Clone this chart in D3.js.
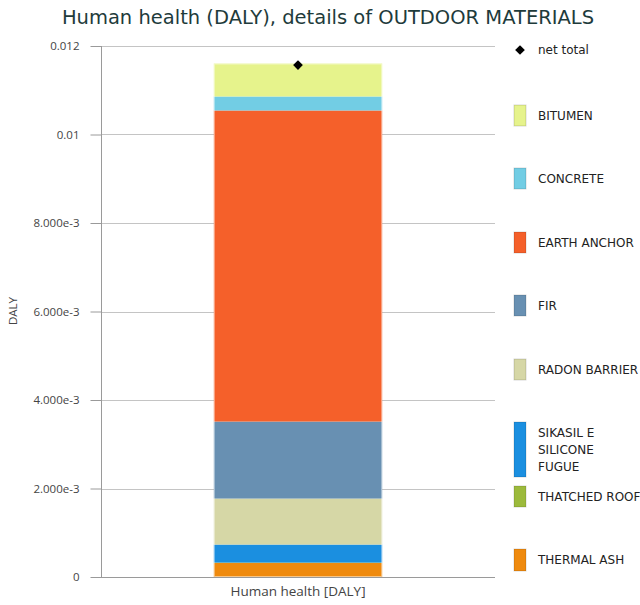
<!DOCTYPE html>
<html><head><meta charset="utf-8">
<script src="https://cdn.jsdelivr.net/npm/d3@7"></script>
<style>body{margin:0;background:#fff}</style>
</head><body>
<svg id="c" width="640" height="605"></svg>
<script>
const categories = ["Human health [DALY]"];
const series = ["THERMAL ASH","THATCHED ROOF","SIKASIL E SILICONE FUGUE","RADON BARRIER","FIR","EARTH ANCHOR","CONCRETE","BITUMEN"];
const values = [0.000316, 0.00001, 0.000407, 0.00104, 0.00174, 0.00703, 0.000316, 0.000746];
const colors = ["#ef8a0e","#9cba3c","#1b8fe0","#d6d7a6","#6890b2","#f5602a","#72cde4","#e6f38c"];
const netTotal = [0.01157];
const yTicks = [0, 0.002, 0.004, 0.006, 0.008, 0.01, 0.012];
const yTickLabels = ["0","2.000e-3","4.000e-3","6.000e-3","8.000e-3","0.01","0.012"];
const legendOrder = ["BITUMEN","CONCRETE","EARTH ANCHOR","FIR","RADON BARRIER","SIKASIL E SILICONE FUGUE","THATCHED ROOF","THERMAL ASH"];

const svg = d3.select("#c");
const y = d3.scaleLinear().domain([0, 0.012]).range([577, 46]);
const x = d3.scaleBand().domain(categories).range([101, 495]).paddingInner(0).paddingOuter(0.67);

svg.append("text").attr("x", 328).attr("y", 24).attr("text-anchor","middle")
  .attr("font-family","Verdana, 'DejaVu Sans', sans-serif").attr("font-size", 19.5)
  .attr("fill","#1e3b3b").text("Human health (DALY), details of OUTDOOR MATERIALS");

// gridlines
svg.append("g").selectAll("line").data(yTicks.slice(1)).join("line")
  .attr("x1",101).attr("x2",495).attr("y1",d=>Math.round(y(d))+0.5).attr("y2",d=>Math.round(y(d))+0.5)
  .attr("stroke","#c4c4c4").attr("stroke-width",1);

// y axis
const yAxis = d3.axisLeft(y).tickValues(yTicks).tickFormat((d,i)=>yTickLabels[i]).tickSize(11).tickPadding(11);
const ga = svg.append("g").attr("transform","translate(101.5,0)").call(yAxis);
ga.select(".domain").attr("stroke","#9a9a9a").attr("d","M0,46V577.5");
ga.selectAll(".tick line").attr("stroke","#9a9a9a");
ga.selectAll(".tick text").attr("font-family","'Open Sans', sans-serif").attr("font-size",11.5).attr("fill","#444");

// x baseline
svg.append("line").attr("x1",101).attr("x2",495).attr("y1",577.5).attr("y2",577.5).attr("stroke","#9a9a9a");

svg.append("text").attr("transform","translate(17,311) rotate(-90)").attr("text-anchor","middle")
  .attr("font-family","'Open Sans', sans-serif").attr("font-size",11.5).attr("fill","#444").text("DALY");

svg.append("text").attr("x", x(categories[0]) + x.bandwidth()/2).attr("y",596).attr("text-anchor","middle")
  .attr("font-family","'Open Sans', sans-serif").attr("font-size",13.5).attr("fill","#444").text(categories[0]);

// stacked bar
let cum = 0;
const stack = values.map((v,i)=>{const s={k:series[i], y0:cum, y1:cum+v, c:colors[i]}; cum+=v; return s;});
svg.append("g").selectAll("rect").data(stack).join("rect")
  .attr("x", x(categories[0])).attr("width", x.bandwidth())
  .attr("y", d=>y(d.y1)).attr("height", d=>y(d.y0)-y(d.y1))
  .attr("fill", d=>d.c);
svg.append("rect").attr("x", x(categories[0])+0.5).attr("width", x.bandwidth()-1)
  .attr("y", y(cum)+0.5).attr("height", y(0)-y(cum)-1).attr("fill","none").attr("stroke","rgba(255,255,255,0.5)");

// net total diamond
svg.append("path").attr("d", d3.symbol(d3.symbolDiamond2 || d3.symbolDiamond, 60)())
  .attr("transform", `translate(${x(categories[0]) + x.bandwidth()/2},${y(netTotal[0])})`).attr("fill","#000");

// legend
const lg = svg.append("g").attr("font-family","Verdana, 'DejaVu Sans', sans-serif").attr("font-size",12).attr("fill","#222");
lg.append("path").attr("d", d3.symbol(d3.symbolDiamond2 || d3.symbolDiamond, 60)()).attr("transform","translate(520,50)").attr("fill","#000");
lg.append("text").attr("x",538).attr("y",54).text("net total");
const legY = {"BITUMEN":[105,126],"CONCRETE":[168,189],"EARTH ANCHOR":[232,253],"FIR":[295,316],"RADON BARRIER":[359,380],"SIKASIL E SILICONE FUGUE":[422,477],"THATCHED ROOF":[486,507],"THERMAL ASH":[549,571]};
legendOrder.forEach(name=>{
  const i = series.indexOf(name);
  const [t,b] = legY[name];
  lg.append("rect").attr("x",514).attr("y",t).attr("width",12).attr("height",b-t).attr("fill",colors[i])
    .attr("stroke","rgba(0,0,0,0.15)");
  if(name==="SIKASIL E SILICONE FUGUE"){
    ["SIKASIL E","SILICONE","FUGUE"].forEach((l,j)=>lg.append("text").attr("x",538).attr("y",437+j*17).text(l));
  } else {
    lg.append("text").attr("x",538).attr("y",(t+b)/2+4).text(name);
  }
});
</script>
</body></html>
